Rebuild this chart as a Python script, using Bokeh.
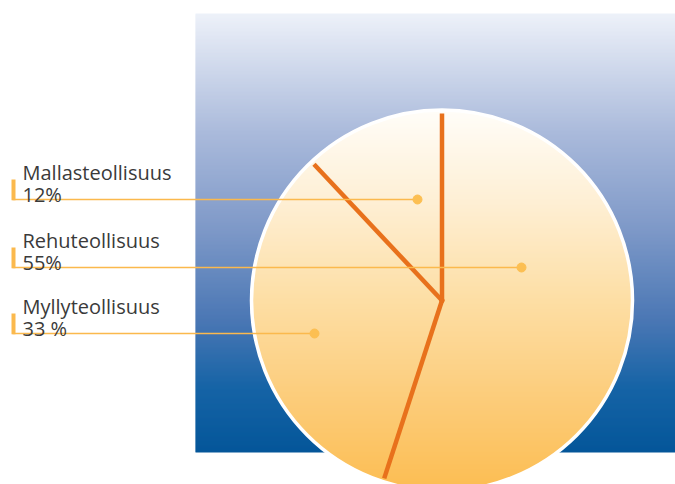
import numpy as np
from bokeh.plotting import figure
from bokeh.models import Range1d
from bokeh.embed import file_html
from bokeh.resources import INLINE
from bokeh.core.properties import value

# ---------------- data ----------------
categories = ["Mallasteollisuus", "Rehuteollisuus", "Myllyteollisuus"]
shares = [12, 55, 33]
share_labels = ["12%", "55%", "33 %"]
# order of slices going counter-clockwise from 12 o'clock
pie_order = ["Mallasteollisuus", "Myllyteollisuus", "Rehuteollisuus"]

# ---------------- layout (pixel space of the page) ----------------
W, H = 675, 484
X0, Y0 = 0, 0
CX, CY, R = 441.5, 300.0, 190.0
BG_LEFT, BG_RIGHT, BG_TOP, BG_BOTTOM = 195, 680, 13, 452
label_line_y = [199, 267, 333]          # leader line rows (same order as categories)
label_dot_x = [417, 521, 314]           # anchor dot inside each slice
TEXT_X = 22

p = figure(width=W, height=H, x_range=Range1d(X0, X0 + W), y_range=Range1d(Y0 + H, Y0),
           output_backend="svg", toolbar_location=None, min_border=0)
p.axis.visible = False
p.grid.visible = False
p.outline_line_color = None
p.background_fill_color = "white"
p.border_fill_color = "white"


def grad(stops, fracs):
    st = np.array([s[0] for s in stops])
    cols = np.array([s[1] for s in stops], dtype=float)
    out = []
    for f in fracs:
        c = [int(round(np.interp(f, st, cols[:, k]))) for k in range(3)]
        out.append("#%02x%02x%02x" % tuple(c))
    return out


# background gradient panel
bg_stops = [(0.0, (237, 241, 249)), (0.27, (170, 186, 219)), (0.5, (124, 151, 199)),
            (0.7, (74, 119, 180)), (0.85, (22, 100, 166)), (1.0, (4, 86, 153))]
ys = np.arange(BG_TOP, BG_BOTTOM)
fr = (ys - BG_TOP) / (BG_BOTTOM - BG_TOP)
p.quad(left=BG_LEFT, right=BG_RIGHT, top=ys, bottom=np.minimum(ys + 1.6, BG_BOTTOM),
       fill_color=grad(bg_stops, fr), line_color=None)

# pie disc with vertical gradient
pie_stops = [(0.0, (255, 253, 248)), (0.24, (254, 239, 212)), (0.5, (253, 222, 164)),
             (0.76, (252, 204, 122)), (1.0, (252, 189, 82))]
rows = np.arange(CY - R, CY + R)
yc = rows + 0.5
hw = np.sqrt(np.clip(R ** 2 - (yc - CY) ** 2, 0, None))
p.quad(left=CX - hw, right=CX + hw, top=rows, bottom=rows + 1.6,
       fill_color=grad(pie_stops, (rows - (CY - R)) / (2 * R)), line_color=None)
p.circle(x=[CX], y=[CY], radius=R + 0.5, fill_color=None, line_color="white", line_width=3.5)

# slice boundaries from the shares
share_of = dict(zip(categories, shares))
total = float(sum(shares))
angles = [90.0]
for c in pie_order[:-1]:
    angles.append(angles[-1] + 360.0 * share_of[c] / total)
th = np.radians(angles)
x1 = CX + (R - 3) * np.cos(th)
y1 = CY - (R - 3) * np.sin(th)
line_col = "#e8711c"
p.segment(x0=[CX] * len(th), y0=[CY] * len(th), x1=x1, y1=y1,
          line_color=line_col, line_width=4.5, line_cap="butt")
p.scatter(x=[CX], y=[CY], size=4.5, color=line_col)

# labels with leader lines
lead_col = "#fbb94d"
ly = np.array(label_line_y, dtype=float)
p.segment(x0=[12] * 3, y0=ly, x1=label_dot_x, y1=ly, line_color=lead_col, line_width=1.5)
p.quad(left=11, right=15, top=ly - 20, bottom=ly + 0.7, fill_color=lead_col, line_color=None)
p.scatter(x=label_dot_x, y=ly, size=9, color="#fcbf52")

p.text(x=[TEXT_X] * 3, y=ly - 27, text=categories, text_font=value("Open Sans"),
       text_font_size="20px", text_color="#3a3a3a", text_baseline="alphabetic", text_align="left")
p.text(x=[TEXT_X] * 3, y=ly - 5, text=share_labels, text_font=value("Open Sans"),
       text_font_size="20px", text_color="#3a3a3a", text_baseline="alphabetic", text_align="left")

open("out.html", "w").write(file_html(p, INLINE))
